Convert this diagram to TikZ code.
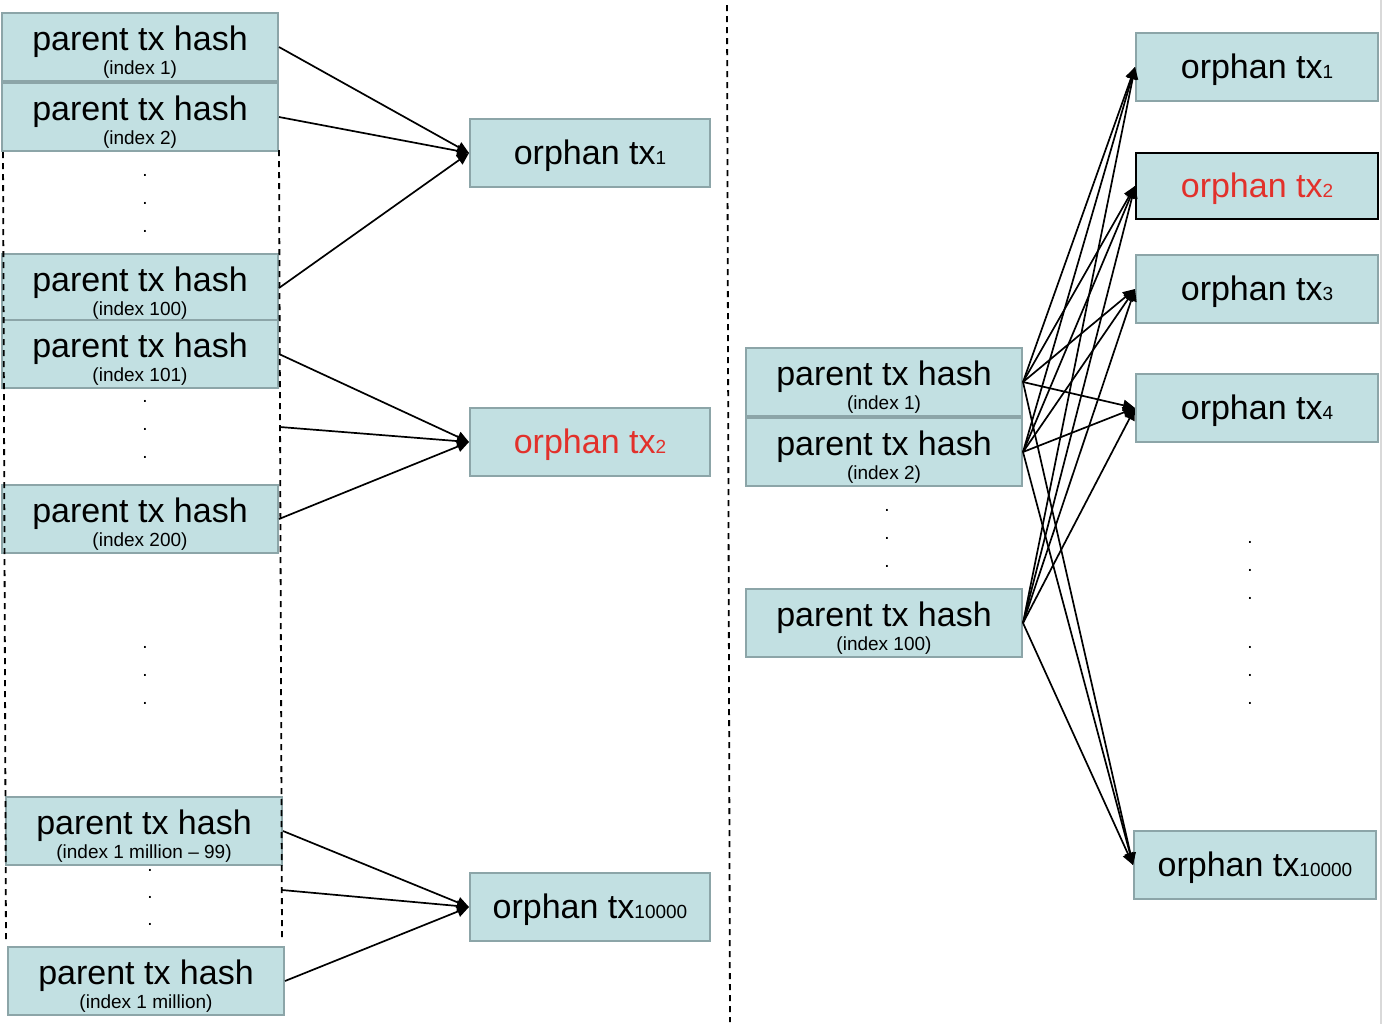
\documentclass[tikz,border=0pt]{standalone}
\usepackage{fontspec}
\setmainfont{Liberation Sans}
\usetikzlibrary{arrows.meta}
\definecolor{boxfill}{RGB}{194,224,226}
\definecolor{boxline}{RGB}{140,165,168}
\definecolor{redtx}{RGB}{226,49,43}
\newcommand{\bigtxt}{\fontsize{17}{17}\selectfont}
\newcommand{\smalltxt}{\fontsize{9.5}{10}\selectfont}
\tikzset{
  pbox/.style={draw=boxline, fill=boxfill, line width=1pt, minimum width=138pt,
    minimum height=34pt, inner sep=0pt, align=center, font=\smalltxt},
  obox/.style={draw=boxline, fill=boxfill, line width=1pt, minimum width=120pt,
    minimum height=34pt, inner sep=0pt, font=\bigtxt, text height=14pt, text depth=3pt},
  robox/.style={obox, minimum width=121pt},
  conn/.style={line width=0.85pt, -{Triangle[length=6pt,width=5.5pt]}},
  dashline/.style={line width=0.9pt, dash pattern=on 3pt off 2.5pt},
  dotnode/.style={inner sep=0pt, anchor=base, font=\smalltxt},
}
\newcommand{\ptext}[1]{{\bigtxt\rule{0pt}{17.5pt}parent tx hash}\\[0.8pt](index #1)}
\newcommand{\otext}[1]{orphan tx{\smalltxt #1}}
\begin{document}
\begin{tikzpicture}[x=0.5pt,y=-0.5pt]
\useasboundingbox (0,0) rectangle (1382,1024);
% left parent boxes
\node[pbox] (l1) at (140,47) {\ptext{1}};
\node[pbox] (l2) at (140,117) {\ptext{2}};
\node[pbox] (l100) at (140,288) {\ptext{100}};
\node[pbox] (l101) at (140,354) {\ptext{101}};
\node[pbox] (l200) at (140,519) {\ptext{200}};
\node[pbox] (l1m99) at (144,831) {\ptext{1 million -- 99}};
\node[pbox] (l1m) at (146,981) {\ptext{1 million}};
% left orphan boxes
\node[obox] (o1l) at (590,153) {\otext{1}};
\node[obox, text=redtx] (o2l) at (590,442) {\otext{2}};
\node[obox] (o3l) at (590,907) {\otext{10000}};
% dashed lines
\draw[dashline] (3,152) coordinate (dla) -- (6,943) coordinate (dlb);
\draw[dashline] (279,150) coordinate (dra) -- (282,937) coordinate (drb);
\draw[dashline] (727,5) coordinate (dma) -- (730,1022) coordinate (dmb);
\coordinate (m1) at (280,427);
\coordinate (m2) at (282,890);
% left dots
\foreach \y [count=\i] in {176,204,232,402,430,458,648,676,704}
  \node[dotnode] (ld\i) at (145,\y) {.};
\foreach \y [count=\i] in {871,898,925}
  \node[dotnode] (lb\i) at (150,\y) {.};
% left connectors
\draw[conn] (l1.east) -- (o1l.west);
\draw[conn] (l2.east) -- (o1l.west);
\draw[conn] (l100.east) -- (o1l.west);
\draw[conn] (l101.east) -- (o2l.west);
\draw[conn] (m1) -- (o2l.west);
\draw[conn] (l200.east) -- (o2l.west);
\draw[conn] (l1m99.east) -- (o3l.west);
\draw[conn] (m2) -- (o3l.west);
\draw[conn] (l1m.east) -- (o3l.west);
% right parent boxes
\node[pbox] (p1) at (884,382) {\ptext{1}};
\node[pbox] (p2) at (884,452) {\ptext{2}};
\node[pbox] (p100) at (884,623) {\ptext{100}};
% right orphan boxes
\node[robox] (r1) at (1257,67) {\otext{1}};
\node[robox, draw=black, text=redtx, minimum height=33pt] (r2) at (1257,186) {\otext{2}};
\node[robox] (r3) at (1257,289) {\otext{3}};
\node[robox] (r4) at (1257,408) {\otext{4}};
\node[robox] (r5) at (1255,865) {\otext{10000}};
% right dots
\foreach \y [count=\i] in {511,539,567}
  \node[dotnode] (pd\i) at (887,\y) {.};
\foreach \y [count=\i] in {543,571,599,648,676,704}
  \node[dotnode] (rd\i) at (1250,\y) {.};
% right connectors
\foreach \p in {p1,p2,p100}
  \foreach \r in {r1,r2,r3,r4,r5}
    \draw[conn] (\p.east) -- (\r.west);
% right edge strip
\draw[black!15, line width=1pt] (1381,0) coordinate (ea) -- (1381,1024) coordinate (eb);
\end{tikzpicture}
\end{document}
